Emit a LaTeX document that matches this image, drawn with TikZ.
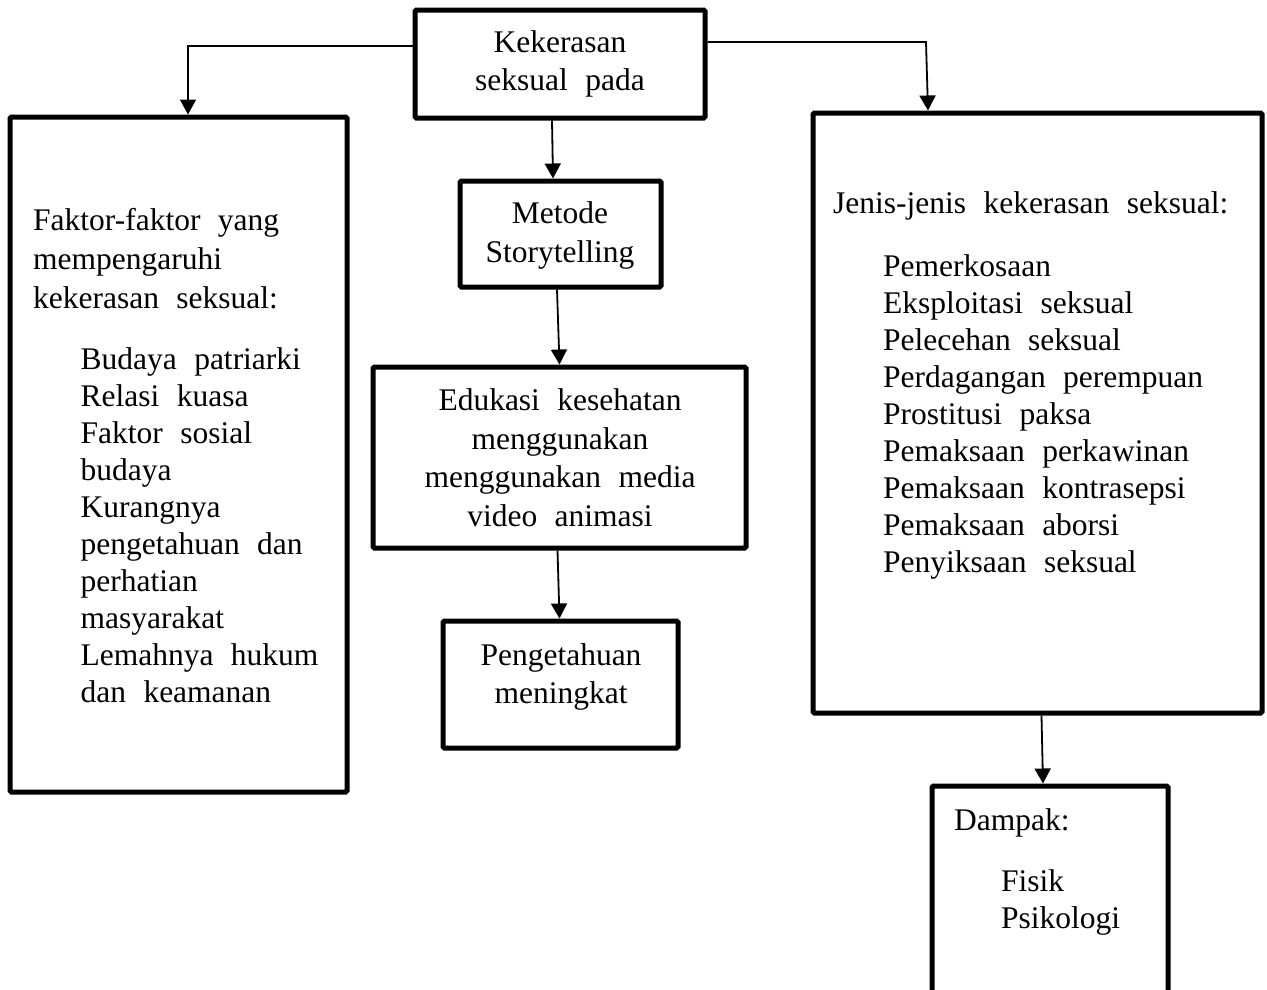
\documentclass[tikz,border=0pt]{standalone}
\usepackage{fontspec}
\setmainfont{Liberation Serif}
\usetikzlibrary{arrows.meta}
\newcommand\bodyfontA{\fontsize{31.5}{36.9}\selectfont\spaceskip 0.55em\relax}
\newcommand\bodyfontB{\fontsize{31.5}{38.5}\selectfont\spaceskip 0.55em\relax}
\newcommand\bodyfontC{\fontsize{31.5}{39}\selectfont\spaceskip 0.55em\relax}
\begin{document}
\begin{tikzpicture}[x=1pt,y=-1pt,
  box/.style n args={2}{draw,line width=5pt,rounded corners=1.5pt,minimum width=#1pt,minimum height=#2pt,inner sep=0pt},
  conn/.style={line width=1.8pt},
  arr/.style={conn,-{Triangle[width=16pt,length=15pt]}},
  txt/.style={inner sep=0pt,align=left,anchor=base west,font=\bodyfontA},
  ctxt/.style={inner sep=0pt,align=center,anchor=base,font=\bodyfontB}]
\useasboundingbox (0,0) rectangle (1267,989);
\clip (0,0) rectangle (1267,989);
% boxes
\node[box={290}{108}] (top) at (560,64) {};
\node[box={337}{675}] (left) at (178.5,454.5) {};
\node[box={201}{106}] (metode) at (560.5,234) {};
\node[box={373}{181}] (edu) at (559.5,457.5) {};
\node[box={235}{127}] (peng) at (560.5,684.5) {};
\node[box={449}{600}] (right) at (1037.5,413) {};
\node[box={236}{224}] (dampak) at (1050,898) {};
% texts (anchor = baseline of last line)
\node[ctxt] (tTop) at (560,90.5) {Kekerasan\\seksual pada};
\node[ctxt] (tMet) at (560,262) {Metode\\Storytelling};
\node[ctxt] (tEdu) at (560,526) {Edukasi kesehatan\\menggunakan\\menggunakan media\\video animasi};
\node[ctxt] (tPeng) at (561,703.5) {Pengetahuan\\meningkat};
\node[txt,font=\bodyfontC] (tLh) at (33,308) {Faktor-faktor yang\\mempengaruhi\\kekerasan seksual:};
\node[txt] (tLl) at (80.5,702) {Budaya patriarki\\Relasi kuasa\\Faktor sosial\\budaya\\Kurangnya\\pengetahuan dan\\perhatian\\masyarakat\\Lemahnya hukum\\dan keamanan};
\node[txt] (tRh) at (833,213) {Jenis-jenis kekerasan seksual:};
\node[txt] (tRl) at (883,572) {Pemerkosaan\\Eksploitasi seksual\\Pelecehan seksual\\Perdagangan perempuan\\Prostitusi paksa\\Pemaksaan perkawinan\\Pemaksaan kontrasepsi\\Pemaksaan aborsi\\Penyiksaan seksual};
\node[txt] (tDh) at (954,830) {Dampak:};
\node[txt] (tDl) at (1001,928) {Fisik\\Psikologi};
% connectors
\coordinate (lk) at (188,46);
\coordinate (rk) at (926,42);
\draw[arr] (top.west |- lk) -- (lk) -- (lk |- left.north);
\draw[arr] (top.east |- rk) -- (rk) -- ([xshift=2pt]rk |- right.north);
\draw[arr] ([xshift=-8pt]top.south) -- ([xshift=-7.5pt]metode.north);
\draw[arr] ([xshift=-3.5pt]metode.south) -- ([xshift=0pt]edu.north);
\draw[arr] ([xshift=-2pt]edu.south) -- ([xshift=-1pt]peng.north);
\draw[arr] ([xshift=4pt]right.south) -- ([xshift=-7pt]dampak.north);
\end{tikzpicture}
\end{document}
